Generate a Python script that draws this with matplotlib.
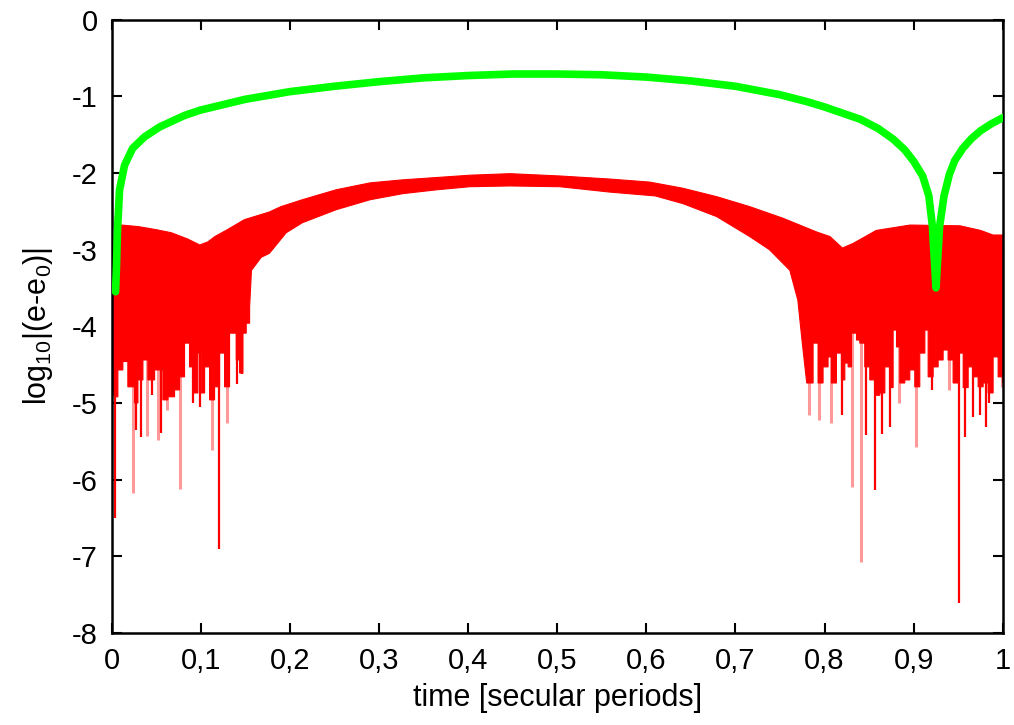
import numpy as np
import matplotlib
matplotlib.use("Agg")
import matplotlib.pyplot as plt

plt.rcParams['font.family'] = ['Liberation Sans', 'DejaVu Sans']
plt.rcParams['mathtext.fontset'] = 'custom'
plt.rcParams['mathtext.rm'] = 'Liberation Sans'
plt.rcParams['mathtext.default'] = 'regular'
plt.rcParams['axes.unicode_minus'] = False

# green curve (centre line)
green_x = [0.0045, 0.0056, 0.0067, 0.009, 0.0146, 0.0236, 0.037, 0.054, 0.082, 0.10,
           0.15, 0.20, 0.25, 0.30, 0.35, 0.40, 0.45, 0.50, 0.55, 0.60, 0.65, 0.70,
           0.75, 0.78, 0.80, 0.82, 0.84, 0.86, 0.877, 0.89, 0.90, 0.91, 0.917, 0.921,
           0.925, 0.929, 0.934, 0.94, 0.946, 0.955, 0.965, 0.975, 0.987, 1.0]
green_y = [-3.55, -3.2, -2.74, -2.22, -1.90, -1.68, -1.53, -1.40, -1.25, -1.18,
           -1.04, -0.94, -0.87, -0.81, -0.76, -0.73, -0.71, -0.71, -0.72, -0.75, -0.80, -0.87,
           -0.98, -1.07, -1.14, -1.22, -1.30, -1.42, -1.56, -1.70, -1.85, -2.04, -2.3, -2.7,
           -3.5, -2.7, -2.3, -2.02, -1.84, -1.68, -1.55, -1.45, -1.36, -1.28]

# red band: upper edge
red_top_x = [0.0, 0.005, 0.007, 0.011, 0.03, 0.05, 0.067, 0.085, 0.099, 0.108, 0.116,
             0.13, 0.149, 0.177, 0.19, 0.214, 0.252, 0.29, 0.327, 0.365, 0.402, 0.447,
             0.503, 0.559, 0.604, 0.641, 0.679, 0.716, 0.753, 0.791, 0.806, 0.82, 0.832,
             0.858, 0.896, 0.952, 0.975, 0.989, 1.0]
red_top_y = [-3.2, -3.0, -2.70, -2.68, -2.70, -2.74, -2.78, -2.86, -2.94, -2.90, -2.83,
             -2.74, -2.61, -2.51, -2.44, -2.35, -2.22, -2.13, -2.09, -2.06, -2.03, -2.01,
             -2.04, -2.08, -2.12, -2.20, -2.31, -2.44, -2.59, -2.77, -2.83, -2.98, -2.92,
             -2.75, -2.68, -2.69, -2.75, -2.81, -2.81]

# red band: lower edge, left noisy part
red_lo_left_x = [0.0, 0.0034, 0.0071, 0.0127, 0.0183, 0.0258, 0.0296, 0.0352, 0.0408,
                 0.0483, 0.0576, 0.0632, 0.0707, 0.0763, 0.0819, 0.0875, 0.0913, 0.0969,
                 0.1006, 0.1044, 0.11, 0.1156, 0.1212, 0.1268, 0.1324, 0.1399, 0.1437,
                 0.1474, 0.1511, 0.1549]
red_lo_left_y = [-4.9, -4.92, -4.57, -4.46, -4.79, -5.0, -4.70, -4.44, -4.70,
                 -4.57, -4.96, -4.92, -4.83, -4.66, -4.22, -4.53, -4.87, -4.35,
                 -4.87, -4.53, -4.96, -4.79, -4.35, -4.79, -4.09, -4.44, -4.61,
                 -4.09, -3.96, -3.75]

# red band: lower edge, smooth middle part
red_lo_mid_x = [0.157, 0.168, 0.177, 0.196, 0.214, 0.252, 0.29, 0.327, 0.365, 0.402,
                0.447, 0.503, 0.559, 0.61, 0.641, 0.679, 0.716, 0.738, 0.761, 0.770,
                0.775]
red_lo_mid_y = [-3.27, -3.10, -3.05, -2.78, -2.65, -2.48, -2.35, -2.27, -2.22, -2.18,
                -2.17, -2.18, -2.25, -2.30, -2.40, -2.57, -2.83, -3.0, -3.27, -3.66,
                -4.22]

# red band: lower edge, right noisy part
red_lo_right_x = [0.780, 0.7834, 0.7871, 0.7927, 0.7983, 0.8039, 0.8077, 0.8133, 0.8189,
                  0.8227, 0.8264, 0.8302, 0.8358, 0.8395, 0.8451, 0.8507, 0.8563, 0.8620,
                  0.8676, 0.8732, 0.8769, 0.8807, 0.8844, 0.8900, 0.8956, 0.9012, 0.9068,
                  0.9125, 0.9162, 0.9218, 0.9274, 0.9330, 0.9386, 0.9442, 0.9510, 0.9555,
                  0.9611, 0.9667, 0.9723, 0.9779, 0.9835, 0.9891, 0.9947, 1.0]
red_lo_right_y = [-4.74, -4.74, -4.22, -4.74, -4.53, -4.40, -4.74, -4.35, -4.70,
                  -4.48, -4.53, -4.09, -4.18, -4.22, -4.53, -4.70, -4.9, -4.87,
                  -4.53, -4.8, -4.05, -4.27, -4.74, -4.70, -4.57, -4.79, -4.35,
                  -4.05, -4.66, -4.53, -4.44, -4.31, -4.44, -4.74, -4.35, -4.8,
                  -4.53, -4.66, -4.79, -4.74, -4.87, -4.40, -4.66, -4.74]

# deep spikes below the red band
spike_x = [0.0034, 0.024, 0.028, 0.033, 0.040, 0.045, 0.052, 0.056, 0.062, 0.077, 0.091,
           0.099, 0.113, 0.121, 0.130, 0.141, 0.146,
           0.783, 0.794, 0.807, 0.819, 0.831, 0.841, 0.846, 0.857, 0.864, 0.873, 0.884,
           0.903, 0.921, 0.940, 0.951, 0.957, 0.966, 0.974, 0.981, 0.985, 0.999]
spike_y = [-6.50, -6.18, -5.35, -5.44, -5.43, -4.90, -5.49, -5.39, -5.09, -6.12, -5.00,
           -5.05, -5.61, -6.90, -5.26, -4.75, -4.62,
           -5.16, -5.22, -5.26, -5.16, -6.10, -7.07, -5.42, -6.14, -5.40, -5.31, -5.00,
           -5.57, -4.83, -4.83, -7.61, -5.44, -5.18, -5.16, -5.31, -5.00, -4.79]
spike_faint = [0, 1, 0, 0, 1, 0, 1, 0, 1, 1, 0,
               0, 1, 0, 1, 0, 0,
               1, 1, 1, 0, 1, 1, 0, 0, 0, 0, 1,
               1, 0, 1, 0, 0, 0, 0, 0, 0, 1]

xticks = [0, 0.1, 0.2, 0.3, 0.4, 0.5, 0.6, 0.7, 0.8, 0.9, 1.0]
xtick_labels = ['0', '0,1', '0,2', '0,3', '0,4', '0,5', '0,6', '0,7', '0,8', '0,9', '1']
yticks = [0, -1, -2, -3, -4, -5, -6, -7, -8]


def steps(x, y):
    # stair-step edge so the noisy parts look like dense vertical hairs
    x = np.asarray(x)
    y = np.asarray(y)
    xs = np.repeat(x, 2)[1:]
    ys = np.repeat(y, 2)[:-1]
    return list(xs), list(ys)


fig = plt.figure(figsize=(10.14, 7.25), dpi=100)
ax = fig.add_axes([0.110, 0.127, 0.879, 0.846])

lx, ly = steps(red_lo_left_x, red_lo_left_y)
rx, ry = steps(red_lo_right_x, red_lo_right_y)
bot_x = lx + red_lo_mid_x + rx
bot_y = ly + red_lo_mid_y + ry

# red band as one polygon
poly_x = red_top_x + bot_x[::-1]
poly_y = red_top_y + bot_y[::-1]
ax.fill(poly_x, poly_y, color='#ff0000', lw=0.8, ec='#ff0000', zorder=2)

for sx, sy, f in zip(spike_x, spike_y, spike_faint):
    if f:
        ax.vlines(sx, -3.6, sy, color='#ff0000', alpha=0.4, lw=2.2, zorder=2)
    else:
        ax.vlines(sx, -3.6, sy, color='#ff0000', lw=1.6, zorder=2)

ax.plot(green_x, green_y, color='#00ff00', lw=5.5, solid_capstyle='round',
        solid_joinstyle='round', zorder=3)

ax.set_xlim(0, 1)
ax.set_ylim(-8, 0)
ax.set_xticks(xticks)
ax.set_xticklabels(xtick_labels)
ax.set_yticks(yticks)
ax.set_yticklabels([str(v) for v in yticks])
ax.tick_params(direction='in', length=7, width=1.5, labelsize=21, pad=10,
               top=True, right=True)
for s in ax.spines.values():
    s.set_linewidth(1.8)

ax.set_xlabel('time [secular periods]', fontsize=22, labelpad=6)
ax.set_ylabel(r'log$_{10}$|(e-e$_0$)|', fontsize=22, labelpad=12)

fig.savefig('out.png', dpi=100)
